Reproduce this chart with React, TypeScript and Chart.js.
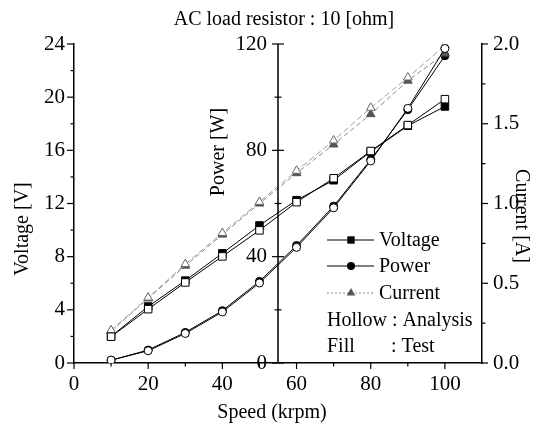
import React, { useEffect, useRef } from 'react';
import { Chart, registerables } from 'chart.js';

Chart.register(...registerables);

const SPEED = [10, 20, 30, 40, 50, 60, 70, 80, 90, 100];
const VOLTAGE_ANALYSIS = [1.98, 4.05, 6.06, 8.02, 9.98, 12.1, 13.9, 15.95, 17.9, 19.85];
const VOLTAGE_TEST = [2.0, 4.25, 6.2, 8.25, 10.35, 12.25, 13.75, 15.9, 17.85, 19.3];
const POWER_ANALYSIS = [1.1, 4.6, 11.1, 19.2, 30.1, 43.5, 58.4, 76.0, 95.8, 118.3];
const POWER_TEST = [1.0, 4.9, 11.5, 19.7, 30.7, 44.2, 59.0, 76.5, 95.3, 115.6];
const CURRENT_ANALYSIS = [0.205, 0.41, 0.62, 0.815, 1.01, 1.205, 1.395, 1.6, 1.79, 1.99];
const CURRENT_TEST = [0.2, 0.405, 0.61, 0.805, 1.0, 1.19, 1.37, 1.56, 1.77, 1.94];

const X_MAJOR = [0, 20, 40, 60, 80, 100];
const X_MINOR = [10, 30, 50, 70, 90];
const V_MAJOR = [0, 4, 8, 12, 16, 20, 24];
const V_MINOR = [2, 6, 10, 14, 18, 22];
const P_MAJOR = [0, 40, 80, 120];
const P_MINOR = [20, 60, 100];
const C_MAJOR = [0, 0.5, 1.0, 1.5, 2.0];
const C_MINOR = [0.25, 0.75, 1.25, 1.75];
const POWER_AXIS_AT = 55;

const TITLE = 'AC load resistor : 10 [ohm]';
const X_TITLE = 'Speed (krpm)';
const V_TITLE = 'Voltage [V]';
const P_TITLE = 'Power [W]';
const C_TITLE = 'Current [A]';
const LEGEND_ITEMS = ['Voltage', 'Power', 'Current'];
const NOTE_1 = 'Hollow : Analysis';
const NOTE_2 = ['Fill', ': Test'];

const FONT = "'Liberation Serif', 'Times New Roman', serif";
const CUR_LINE = '#8c8c8c';
const CUR_FILL = '#555555';

const pts = (ys: number[]) => SPEED.map((x, i) => ({ x, y: ys[i] }));

const decor = {
  id: 'decor',
  beforeDraw(chart: any) {
    const c = chart.ctx;
    c.save();
    c.fillStyle = '#fff';
    c.fillRect(0, 0, chart.width, chart.height);
    c.restore();
  },
  afterDraw(chart: any) {
    const ctx = chart.ctx as CanvasRenderingContext2D;
    const { left, right, bottom } = chart.chartArea;
    const sx = chart.scales.x;
    const sv = chart.scales.y;
    const sp = chart.scales.yP;
    const sc = chart.scales.yC;
    ctx.save();
    ctx.strokeStyle = '#000';
    ctx.fillStyle = '#000';
    ctx.lineWidth = 1.2;
    const seg = (x1: number, y1: number, x2: number, y2: number) => {
      ctx.beginPath();
      ctx.moveTo(x1, y1);
      ctx.lineTo(x2, y2);
      ctx.stroke();
    };
    X_MAJOR.forEach((v) => { const p = sx.getPixelForValue(v); seg(p, bottom, p, bottom + 6); });
    X_MINOR.forEach((v) => { const p = sx.getPixelForValue(v); seg(p, bottom, p, bottom + 3.5); });
    V_MAJOR.forEach((v) => { const p = sv.getPixelForValue(v); seg(left - 7, p, left, p); });
    V_MINOR.forEach((v) => { const p = sv.getPixelForValue(v); seg(left - 3.5, p, left, p); });
    C_MAJOR.forEach((v) => { const p = sc.getPixelForValue(v); seg(right, p, right + 6, p); });
    C_MINOR.forEach((v) => { const p = sc.getPixelForValue(v); seg(right, p, right + 3.5, p); });

    // Power axis in the middle
    const ax = sx.getPixelForValue(POWER_AXIS_AT);
    ctx.lineWidth = 1.5;
    seg(ax, sp.getPixelForValue(0), ax, sp.getPixelForValue(120));
    ctx.lineWidth = 1.2;
    P_MAJOR.forEach((v) => { const p = sp.getPixelForValue(v); seg(ax - 6, p, ax + 6, p); });
    P_MINOR.forEach((v) => { const p = sp.getPixelForValue(v); seg(ax - 3.5, p, ax + 3.5, p); });
    ctx.font = `21px ${FONT}`;
    ctx.textAlign = 'right';
    ctx.textBaseline = 'middle';
    P_MAJOR.forEach((v) => { ctx.fillText(String(v), ax - 11, sp.getPixelForValue(v)); });

    // titles
    ctx.font = `20px ${FONT}`;
    ctx.textBaseline = 'alphabetic';
    ctx.textAlign = 'center';
    ctx.fillText(TITLE, 284, 25);
    ctx.fillText(X_TITLE, 272, 418);

    const rot = (text: string, x: number, y: number, a: number) => {
      ctx.save();
      ctx.translate(x, y);
      ctx.rotate(a);
      ctx.textAlign = 'center';
      ctx.textBaseline = 'alphabetic';
      ctx.fillText(text, 0, 0);
      ctx.restore();
    };
    rot(V_TITLE, 28, 229, -Math.PI / 2);
    rot(P_TITLE, 224, 152, -Math.PI / 2);
    rot(C_TITLE, 516, 216, Math.PI / 2);

    // legend
    const lx1 = 327, lx2 = 374, mx = 351;
    const rows = [240, 266, 293];
    const bases = [246, 272, 299];
    ctx.lineWidth = 1;
    ctx.strokeStyle = '#000';
    ctx.setLineDash([]);
    seg(lx1, rows[0], lx2, rows[0]);
    ctx.fillStyle = '#000';
    ctx.fillRect(mx - 3.7, rows[0] - 3.7, 7.4, 7.4);
    seg(lx1, rows[1], lx2, rows[1]);
    ctx.beginPath();
    ctx.arc(mx, rows[1], 4, 0, Math.PI * 2);
    ctx.fill();
    ctx.strokeStyle = CUR_LINE;
    ctx.setLineDash([2, 2]);
    seg(lx1, rows[2], lx2, rows[2]);
    ctx.setLineDash([]);
    ctx.fillStyle = CUR_FILL;
    ctx.beginPath();
    ctx.moveTo(mx, rows[2] - 5);
    ctx.lineTo(mx + 4.3, rows[2] + 2.5);
    ctx.lineTo(mx - 4.3, rows[2] + 2.5);
    ctx.closePath();
    ctx.fill();

    ctx.fillStyle = '#000';
    ctx.font = `20px ${FONT}`;
    ctx.textAlign = 'left';
    ctx.textBaseline = 'alphabetic';
    LEGEND_ITEMS.forEach((t, i) => ctx.fillText(t, 379, bases[i]));
    ctx.fillText(NOTE_1, 327, 325.5);
    ctx.fillText(NOTE_2[0], 327, 352);
    ctx.fillText(NOTE_2[1], 391, 352);
    ctx.restore();
  },
};

export default function App() {
  const ref = useRef<HTMLCanvasElement | null>(null);

  useEffect(() => {
    if (!ref.current) return;
    const tickFont = { family: FONT, size: 21 };
    const chart = new Chart(ref.current, {
      type: 'line',
      data: {
        datasets: [
          {
            label: 'Voltage (Test)', data: pts(VOLTAGE_TEST), yAxisID: 'y', order: 6,
            borderColor: '#000', borderWidth: 1, pointStyle: 'rect', pointRadius: 5.3,
            pointBackgroundColor: '#000', pointBorderColor: '#000', pointBorderWidth: 1,
          },
          {
            label: 'Power (Test)', data: pts(POWER_TEST), yAxisID: 'yP', order: 5,
            borderColor: '#000', borderWidth: 1, pointStyle: 'circle', pointRadius: 4,
            pointBackgroundColor: '#000', pointBorderColor: '#000', pointBorderWidth: 1,
          },
          {
            label: 'Current (Test)', data: pts(CURRENT_TEST), yAxisID: 'yC', order: 4,
            borderColor: CUR_LINE, borderWidth: 1, borderDash: [5, 3], pointStyle: 'triangle', pointRadius: 5,
            pointBackgroundColor: CUR_FILL, pointBorderColor: CUR_FILL, pointBorderWidth: 1,
          },
          {
            label: 'Current (Analysis)', data: pts(CURRENT_ANALYSIS), yAxisID: 'yC', order: 3,
            borderColor: '#a0a0a0', borderWidth: 1, borderDash: [6, 3], pointStyle: 'triangle', pointRadius: 5,
            pointBackgroundColor: '#fff', pointBorderColor: '#666', pointBorderWidth: 1,
          },
          {
            label: 'Voltage (Analysis)', data: pts(VOLTAGE_ANALYSIS), yAxisID: 'y', order: 2,
            borderColor: '#000', borderWidth: 1, pointStyle: 'rect', pointRadius: 5.3,
            pointBackgroundColor: '#fff', pointBorderColor: '#000', pointBorderWidth: 1,
          },
          {
            label: 'Power (Analysis)', data: pts(POWER_ANALYSIS), yAxisID: 'yP', order: 1,
            borderColor: '#000', borderWidth: 1, pointStyle: 'circle', pointRadius: 4,
            pointBackgroundColor: '#fff', pointBorderColor: '#000', pointBorderWidth: 1,
          },
        ],
      },
      options: {
        responsive: false,
        animation: false,
        devicePixelRatio: 1,
        layout: { padding: { top: 44, left: 0, right: 0, bottom: 0 } },
        plugins: { legend: { display: false }, tooltip: { enabled: false }, title: { display: false } },
        elements: { line: { tension: 0 } },
        scales: {
          x: {
            type: 'linear', position: 'bottom', min: 0, max: 110,
            afterFit: (s: any) => { s.height = 63; },
            border: { display: true, color: '#000', width: 1.5 },
            grid: { display: true, drawOnChartArea: false, drawTicks: true, tickLength: 6, tickColor: 'rgba(0,0,0,0)' },
            ticks: { stepSize: 20, includeBounds: false, font: tickFont, color: '#000', padding: 3, maxRotation: 0, autoSkip: false },
          },
          y: {
            type: 'linear', position: 'left', min: 0, max: 24,
            afterFit: (s: any) => { s.width = 74; },
            border: { display: true, color: '#000', width: 1.5 },
            grid: { display: true, drawOnChartArea: false, drawTicks: true, tickLength: 6, tickColor: 'rgba(0,0,0,0)' },
            ticks: { stepSize: 4, font: tickFont, color: '#000', padding: 3 },
          },
          yP: {
            type: 'linear', display: false, min: 0, max: 120,
          },
          yC: {
            type: 'linear', position: 'right', min: 0, max: 2,
            afterFit: (s: any) => { s.width = 62; },
            border: { display: true, color: '#000', width: 1.5 },
            grid: { display: true, drawOnChartArea: false, drawTicks: true, tickLength: 6, tickColor: 'rgba(0,0,0,0)' },
            ticks: { stepSize: 0.5, font: tickFont, color: '#000', padding: 5, callback: (v: any) => Number(v).toFixed(1) },
          },
        },
      } as any,
      plugins: [decor],
    });
    return () => chart.destroy();
  }, []);

  return (
    <div style={{ position: 'absolute', left: 0, top: 0, width: 544, height: 426 }}>
      <canvas ref={ref} width={544} height={426} />
    </div>
  );
}
